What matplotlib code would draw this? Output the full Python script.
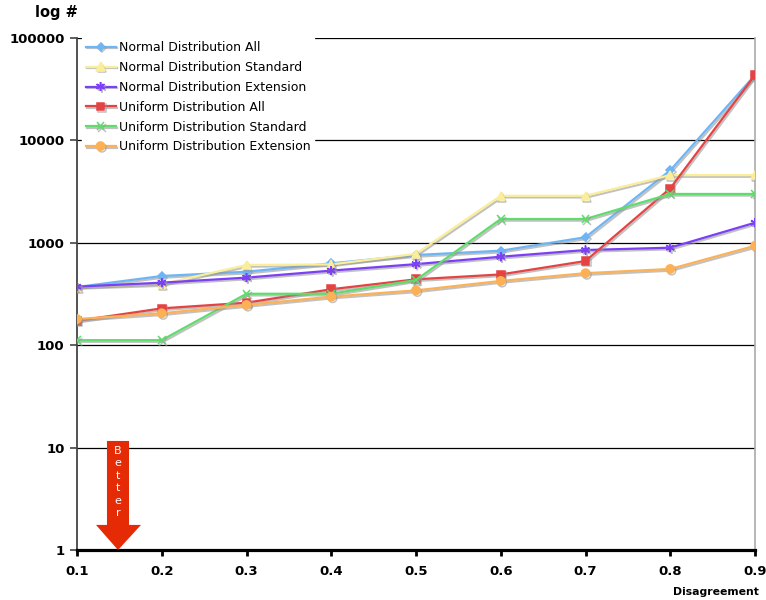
import numpy as np
import matplotlib
matplotlib.use("Agg")
import matplotlib.pyplot as plt
import matplotlib.patheffects as pe
from matplotlib.patches import Polygon
from matplotlib.ticker import FixedLocator, FixedFormatter, NullLocator

# data
disagreement = [0.1, 0.2, 0.3, 0.4, 0.5, 0.6, 0.7, 0.8, 0.9]
normal_all = [370, 474, 522, 630, 760, 837, 1133, 5100, 43500]
normal_standard = [370, 395, 607, 615, 780, 2880, 2880, 4580, 4580]
normal_extension = [373, 408, 457, 535, 619, 731, 850, 896, 1571]
uniform_all = [173, 229, 260, 352, 440, 491, 664, 3400, 43500]
uniform_standard = [112, 112, 318, 318, 433, 1707, 1707, 3000, 3000]
uniform_extension = [180, 205, 247, 298, 343, 424, 505, 555, 935]

series = [
    ("Normal Distribution All", normal_all, "#6db5f5", "D", 4),
    ("Normal Distribution Standard", normal_standard, "#fbee9a", "^", 6),
    ("Normal Distribution Extension", normal_extension, "#7b3ff7", (6, 2, 0), 6.5),
    ("Uniform Distribution All", uniform_all, "#e54343", "s", 5.5),
    ("Uniform Distribution Standard", uniform_standard, "#5fdc6c", "x", 5.5),
    ("Uniform Distribution Extension", uniform_extension, "#fdb156", "o", 6),
]

yticks = [1, 10, 100, 1000, 10000, 100000]
ytick_labels = ["1", "10", "100", "1000", "10000", "100000"]

fig = plt.figure(figsize=(7.66, 6), dpi=100)
ax = fig.add_axes([77 / 766, 1 - 550 / 600, 678 / 766, 512 / 600])

shadow = [pe.SimpleLineShadow(offset=(1.0, -1.2), shadow_color="#999999", alpha=0.6), pe.Normal()]

for name, vals, col, mk, ms in series:
    ax.plot(disagreement, vals, color=col, marker=mk, markersize=ms, lw=1.6,
            markeredgecolor=col, markeredgewidth=1.1, label=name,
            path_effects=shadow, zorder=3)

ax.set_yscale("log")
ax.set_ylim(1, 100000)
ax.set_xlim(0.1, 0.9)
ax.yaxis.set_major_locator(FixedLocator(yticks))
ax.yaxis.set_major_formatter(FixedFormatter(ytick_labels))
ax.yaxis.set_minor_locator(NullLocator())
ax.set_xticks(disagreement)
ax.set_xticklabels(["%.1f" % v for v in disagreement])

for y in yticks[1:]:
    ax.axhline(y, color="black", lw=0.9, zorder=1)

for lab in ax.get_xticklabels() + ax.get_yticklabels():
    lab.set_fontweight("bold")
    lab.set_fontsize(9.5)

ax.tick_params(axis="y", length=5, width=1.2, color="#444444", pad=4)
ax.tick_params(axis="x", length=4, width=2, color="black", pad=7)
ax.spines["top"].set_visible(False)
ax.spines["right"].set_color("#aaaaaa")
ax.spines["right"].set_linewidth(1.2)
ax.spines["left"].set_color("#444444")
ax.spines["left"].set_linewidth(1.3)
ax.spines["bottom"].set_color("black")
ax.spines["bottom"].set_linewidth(2.3)

fig.text(35 / 766, 1 - 13 / 600, "log #", fontsize=10.5, fontweight="bold", va="center")
fig.text(673 / 766, 1 - 592 / 600, "Disagreement", fontsize=7.8, fontweight="bold", va="center")

leg = ax.legend(loc="upper left", bbox_to_anchor=(0.008, 1.0), frameon=True, fontsize=9,
                handlelength=2.4, handletextpad=0.3, labelspacing=0.55, numpoints=1,
                borderpad=0.25, borderaxespad=0.0, fancybox=False)
leg.get_frame().set_edgecolor("white")
leg.get_frame().set_facecolor("white")
leg.get_frame().set_alpha(1)
leg.set_zorder(5)

# "Better" arrow in axes fraction coordinates
arrow = Polygon([(0.0442, 0.213), (0.0767, 0.213), (0.0767, 0.049), (0.0944, 0.049),
                 (0.0605, 0.0), (0.028, 0.049), (0.0442, 0.049)],
                closed=True, transform=ax.transAxes, facecolor="#e52a06",
                edgecolor="none", zorder=6, clip_on=False)
ax.add_patch(arrow)
ax.text(0.0605, 0.203, "B\ne\nt\nt\ne\nr", transform=ax.transAxes, color="white",
        fontsize=8, ha="center", va="top", linespacing=1.3, zorder=7)

fig.savefig("out.png", dpi=100)
